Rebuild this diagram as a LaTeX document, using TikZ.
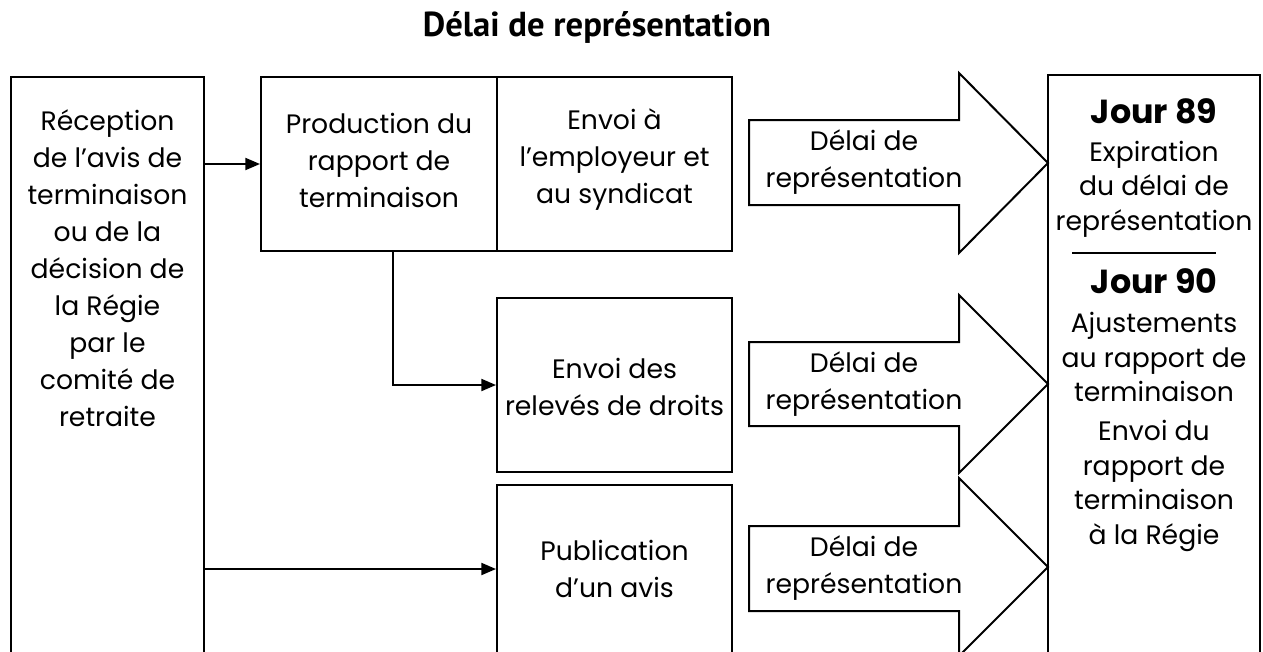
\documentclass[tikz,border=0pt]{standalone}
\usepackage{fontspec}
\setmainfont{Poppins}
\newfontfamily\titlefont{PT Sans}
\usetikzlibrary{arrows.meta,fit}

\tikzset{
  box/.style={draw, line width=1.5pt, inner sep=0pt},
  txt/.style={align=center, inner sep=0pt, font=\fontsize{20}{27.75}\selectfont},
  rtxt/.style={align=center, inner sep=0pt, font=\fontsize{20}{26}\selectfont},
  hdr/.style={align=center, inner sep=0pt, font=\fontsize{25}{28}\bfseries},
  titletxt/.style={inner sep=0pt, font=\titlefont\fontsize{26}{30}\bfseries},
  blockarr/.style={draw, line width=1.5pt, line join=miter},
  conn/.style={line width=1.5pt, -{Triangle[length=11pt,width=9pt]}}
}

\begin{document}
\begin{tikzpicture}[x=0.75pt,y=0.75pt,yscale=-1]
\useasboundingbox (0,0) rectangle (1263,651);
\clip (0,0) rectangle (1263,651);

% Title
\node[titletxt] (title) at (597,27) {Délai de représentation};

%Shape: Rectangles (open at the bottom edge of the page)
\node[box, fit={(11,77) (204,700)}] (recepbox) {};
\node[box, fit={(261,77) (497,251)}] (prodbox) {};
\node[box, fit={(497,77) (732,251)}] (envbox) {};
\node[box, fit={(497,298) (732,472)}] (relbox) {};
\node[box, fit={(497,485) (732,700)}] (pubbox) {};
\node[box, fit={(1048,75) (1260,700)}] (jourbox) {};

% Text Node
\node[txt] (recep) at (107.5,268) {Réception\\de l’avis de\\terminaison\\ou de la\\décision de\\la Régie\\par le\\comité de\\retraite};
% Text Node
\node[txt] (prod) at (379,160) {Production du\\rapport de\\terminaison};
% Text Node
\node[txt] (envoi) at (614.5,160) {Envoi à\\l’employeur et\\au syndicat};
% Text Node
\node[txt] (rel) at (614.5,387) {Envoi des\\relevés de droits};
% Text Node
\node[txt] (pub) at (614.5,569) {Publication\\d’un avis};

%Shape: Block arrows
\draw[blockarr] (749,120) -- (959,120) -- (959,73) -- (1048,163) -- (959,253) -- (959,205) -- (749,205) -- cycle;
\draw[blockarr] (749,342) -- (959,342) -- (959,295) -- (1048,384) -- (959,473) -- (959,426) -- (749,426) -- cycle;
\draw[blockarr] (749,526) -- (959,526) -- (959,478) -- (1048,567) -- (959,656) -- (959,611) -- (749,611) -- cycle;

% Text Node
\node[txt] (delai1) at (864,162) {Délai de\\représentation};
% Text Node
\node[txt] (delai2) at (864,384) {Délai de\\représentation};
% Text Node
\node[txt] (delai3) at (864,568) {Délai de\\représentation};

% Text Node
\node[hdr] (j89) at (1154,111) {Jour 89};
% Text Node
\node[rtxt] (expir) at (1154,189) {Expiration\\du délai de\\représentation};
%Straight Lines
\draw[line width=1.5pt] (1072,253) -- (1216,253);
% Text Node
\node[hdr] (j90) at (1154,281) {Jour 90};
% Text Node
\node[rtxt] (ajust) at (1154,357) {Ajustements\\au rapport de\\terminaison};
% Text Node
\node[rtxt] (envreg) at (1154,486) {Envoi du\\rapport de\\terminaison\\à la Régie};

% Connectors
\draw[conn] (recepbox.east |- prodbox.west) -- (prodbox.west);
\draw[conn] ([xshift=10.5pt]prodbox.south) |- (relbox.west);
\draw[conn] (recepbox.east |- pub) -- (pubbox.west |- pub);

\end{tikzpicture}
\end{document}
